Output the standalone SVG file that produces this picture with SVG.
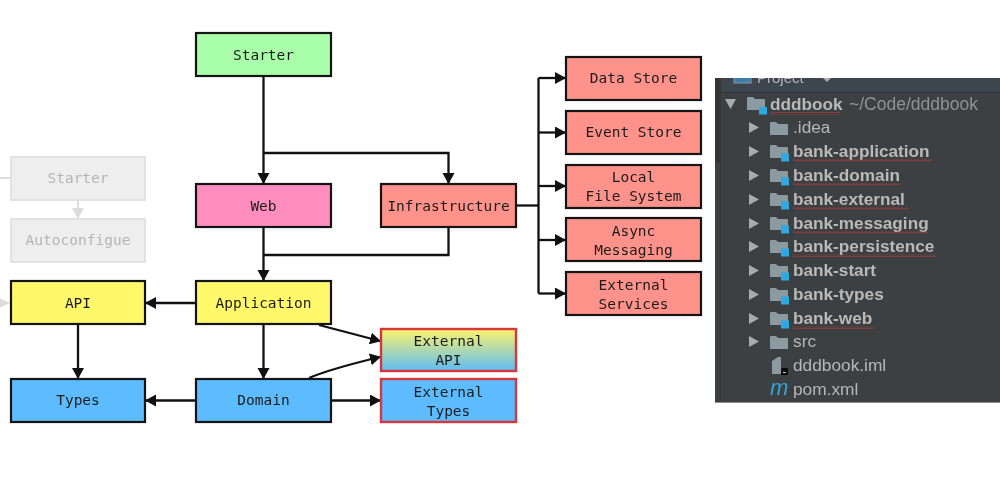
<svg xmlns="http://www.w3.org/2000/svg" width="1000" height="483" viewBox="0 0 1000 483">
<style>
.n{stroke:#141414;stroke-width:2.2}
.x{stroke:#d8363c;stroke-width:2.4}
.g{fill:#eeeeee;stroke:#e2e2e2;stroke-width:2}
.t{font-family:"DejaVu Sans Mono","Liberation Mono",monospace;font-size:14.5px;fill:#1c1c1c;text-anchor:middle}
.gt{fill:#b4b4b4}
.c{fill:none;stroke:#111;stroke-width:2.3}
.cg{fill:none;stroke:#dcdcdc;stroke-width:2}
.p{font-family:"Liberation Sans",Arial,sans-serif;font-size:17.300px;fill:#b4b6b8}
.b{font-weight:bold;font-size:17.200px;fill:#b9b9b9}
.f{fill:#8c9aa2}
.s{fill:#2fa8e0}
.a{fill:#a9abad}
.w{fill:url(#sq)}
</style>
<defs>
<linearGradient id="ext" x1="0" y1="0" x2="0" y2="1"><stop offset="0" stop-color="#fff36b"/><stop offset="1" stop-color="#5cbcf5"/></linearGradient>
<marker id="ah" markerWidth="12" markerHeight="13" refX="10" refY="6" orient="auto" markerUnits="userSpaceOnUse"><path d="M0 0L11 6L0 12Z" fill="#111"/></marker>
<marker id="ag" markerWidth="12" markerHeight="13" refX="10" refY="6" orient="auto" markerUnits="userSpaceOnUse"><path d="M0 0L11 6L0 12Z" fill="#dcdcdc"/></marker>
<pattern id="sq" width="4" height="3" patternUnits="userSpaceOnUse"><path d="M0 2.500L2 .5L4 2.500" fill="none" stroke="#c23a3c" stroke-width="1"/></pattern>
<clipPath id="pc"><rect x="715" y="78" width="285" height="325"/></clipPath>
<filter id="sketch" filterUnits="userSpaceOnUse" x="0" y="0" width="1000" height="483" color-interpolation-filters="sRGB"><feTurbulence type="fractalNoise" baseFrequency="0.35" numOctaves="2" seed="4" result="o"/><feDisplacementMap in="SourceGraphic" in2="o" scale="1.200" xChannelSelector="R" yChannelSelector="G"/><feGaussianBlur stdDeviation="0.35"/></filter>
<filter id="soft" filterUnits="userSpaceOnUse" x="700" y="60" width="300" height="360"><feGaussianBlur stdDeviation="0.45"/></filter>
<g id="fold"><path class="f" d="M0 3a1 1 0 0 1 1-1h5l2 2h9a1 1 0 0 1 1 1v10h-18z"/></g>
<g id="mod"><use href="#fold"/><rect class="s" x="11" y="10.500" width="8" height="8"/></g>
<path id="tri" class="a" d="M0 0L10 5.500L0 11Z"/>
</defs>

<g filter="url(#sketch)">
<g id="connectors">
<path class="cg" d="M0 178H11"/>
<path class="cg" d="M78 200V218" marker-end="url(#ag)"/>
<path class="c" d="M263.500 76V183" marker-end="url(#ah)"/>
<path class="c" d="M263.500 153H448.500V183" marker-end="url(#ah)"/>
<path class="c" d="M263.500 227V280" marker-end="url(#ah)"/>
<path class="c" d="M448.500 227V255H263.500"/>
<path class="c" d="M516 205.500H538.500"/>
<path class="c" d="M538.500 78V293.500"/>
<path class="c" d="M538.500 78H565" marker-end="url(#ah)"/>
<path class="c" d="M538.500 132.500H565" marker-end="url(#ah)"/>
<path class="c" d="M538.500 186H565" marker-end="url(#ah)"/>
<path class="c" d="M538.500 240H565" marker-end="url(#ah)"/>
<path class="c" d="M538.500 293.500H565" marker-end="url(#ah)"/>
<path class="c" d="M196 303H146" marker-end="url(#ah)"/>
<path class="c" d="M78 324V378" marker-end="url(#ah)"/>
<path class="c" d="M263.500 324V378" marker-end="url(#ah)"/>
<path class="c" d="M196 400.500H146" marker-end="url(#ah)"/>
<path class="c" d="M331 400.500H380" marker-end="url(#ah)"/>
<path class="c" d="M319 325L380 341" marker-end="url(#ah)"/>
<path class="c" d="M309 378C330 369 355 363 380 357" marker-end="url(#ah)"/>
<path d="M0 298.500L10 303L0 307.500Z" fill="#dcdcdc"/>
</g>

<g id="n-starter"><rect class="n" x="196" y="33" width="135" height="43" fill="#a9ffa9"/><text class="t" x="263.500" y="60">Starter</text></g>
<g id="n-web"><rect class="n" x="196" y="184" width="135" height="43" fill="#ff8ebf"/><text class="t" x="263.500" y="211">Web</text></g>
<g id="n-infrastructure"><rect class="n" x="381" y="184" width="135" height="43" fill="#ff928a"/><text class="t" x="448.500" y="211">Infrastructure</text></g>
<g id="n-datastore"><rect class="n" x="566" y="57" width="135" height="43" fill="#ff928a"/><text class="t" x="633.500" y="83">Data Store</text></g>
<g id="n-eventstore"><rect class="n" x="566" y="111" width="135" height="43" fill="#ff928a"/><text class="t" x="633.500" y="137">Event Store</text></g>
<g id="n-localfs"><rect class="n" x="566" y="165" width="135" height="43" fill="#ff928a"/><text class="t" x="633.500" y="182">Local</text><text class="t" x="633.500" y="201">File System</text></g>
<g id="n-async"><rect class="n" x="566" y="218" width="135" height="43" fill="#ff928a"/><text class="t" x="633.500" y="236">Async</text><text class="t" x="633.500" y="255">Messaging</text></g>
<g id="n-extservices"><rect class="n" x="566" y="272" width="135" height="43" fill="#ff928a"/><text class="t" x="633.500" y="290">External</text><text class="t" x="633.500" y="309">Services</text></g>
<g id="n-gstarter"><rect class="g" x="11" y="157" width="134" height="43"/><text class="t gt" x="78" y="183">Starter</text></g>
<g id="n-autoconfigue"><rect class="g" x="11" y="219" width="134" height="43"/><text class="t gt" x="78" y="245">Autoconfigue</text></g>
<g id="n-api"><rect class="n" x="11" y="281" width="134" height="43" fill="#fff86b"/><text class="t" x="78" y="308">API</text></g>
<g id="n-application"><rect class="n" x="196" y="281" width="135" height="43" fill="#fff86b"/><text class="t" x="263.500" y="308">Application</text></g>
<g id="n-types"><rect class="n" x="11" y="379" width="134" height="43" fill="#5cbcff"/><text class="t" x="78" y="405">Types</text></g>
<g id="n-domain"><rect class="n" x="196" y="379" width="135" height="43" fill="#5cbcff"/><text class="t" x="263.500" y="405">Domain</text></g>
<g id="n-extapi"><rect class="x" x="381" y="329" width="135" height="42" fill="url(#ext)"/><text class="t" x="448.500" y="346">External</text><text class="t" x="448.500" y="365">API</text></g>
<g id="n-exttypes"><rect class="x" x="381" y="379" width="135" height="43" fill="#5cbcff"/><text class="t" x="448.500" y="397">External</text><text class="t" x="448.500" y="416">Types</text></g>
</g>

<g clip-path="url(#pc)">
<g id="project-panel" filter="url(#soft)">
<rect x="715" y="60" width="285" height="343" fill="#3e4042"/>
<rect x="715" y="60" width="285" height="32" fill="#3c4550"/>
<rect x="715" y="92" width="285" height="1" fill="#33363a"/>
<rect x="715" y="60" width="5" height="103" fill="#353638"/>
<rect x="720" y="60" width="1" height="343" fill="#37393b"/>
<rect x="734" y="68" width="17" height="15" fill="#3d7ea6" stroke="#8c9aa2"/>
<text class="p" x="757" y="83" style="font-size:15px">Project</text>
<path class="a" d="M823 78L827 82L831 78Z"/>
<path class="a" d="M725 99H736L730.500 109Z"/>
<use href="#fold" x="747" y="95"/><rect class="s" x="759" y="107" width="8" height="7.500"/>
<text class="p b" x="770" y="110">dddbook</text>
<text class="p" x="849" y="110" style="fill:#8f9294;font-size:17.500px">~/Code/dddbook</text>
<rect class="w" x="770" y="112" width="70" height="3"/>

<use href="#tri" x="749" y="122"/><use href="#fold" x="770" y="120"/><text class="p" x="793" y="133">.idea</text>
<use href="#tri" x="749" y="146"/><use href="#mod" x="770" y="143"/><text class="p b" x="793" y="157">bank-application</text><rect class="w" x="793" y="159" width="138" height="3"/>
<use href="#tri" x="749" y="170"/><use href="#mod" x="770" y="167"/><text class="p b" x="793" y="181">bank-domain</text><rect class="w" x="793" y="183" width="107" height="3"/>
<use href="#tri" x="749" y="194"/><use href="#mod" x="770" y="191"/><text class="p b" x="793" y="205">bank-external</text><rect class="w" x="793" y="207" width="116" height="3"/>
<use href="#tri" x="749" y="218"/><use href="#mod" x="770" y="215"/><text class="p b" x="793" y="229">bank-messaging</text><rect class="w" x="793" y="231" width="135" height="3"/>
<use href="#tri" x="749" y="241"/><use href="#mod" x="770" y="238"/><text class="p b" x="793" y="252">bank-persistence</text><rect class="w" x="793" y="254" width="143" height="3"/>
<use href="#tri" x="749" y="265"/><use href="#mod" x="770" y="262"/><text class="p b" x="793" y="276">bank-start</text>
<use href="#tri" x="749" y="289"/><use href="#mod" x="770" y="286"/><text class="p b" x="793" y="300">bank-types</text>
<use href="#tri" x="749" y="313"/><use href="#mod" x="770" y="310"/><text class="p b" x="793" y="324">bank-web</text><rect class="w" x="793" y="326" width="81" height="3"/>
<use href="#tri" x="749" y="336"/><use href="#fold" x="770" y="334"/><text class="p" x="793" y="347">src</text>
<path class="f" d="M772 361l6-4h3v17h-9z"/><rect x="781" y="368" width="7" height="7" fill="#111"/><rect x="783" y="372" width="3" height="1" fill="#ccc"/>
<text class="p" x="793" y="371">dddbook.iml</text>
<text x="770" y="395" style="font-family:'Liberation Sans',sans-serif;font-style:italic;font-size:22px;fill:#38a3d8">m</text>
<text class="p" x="793" y="395">pom.xml</text>
<rect x="715" y="402" width="285" height="2" fill="#8a8c8e"/>
</g>
</g>
</svg>
